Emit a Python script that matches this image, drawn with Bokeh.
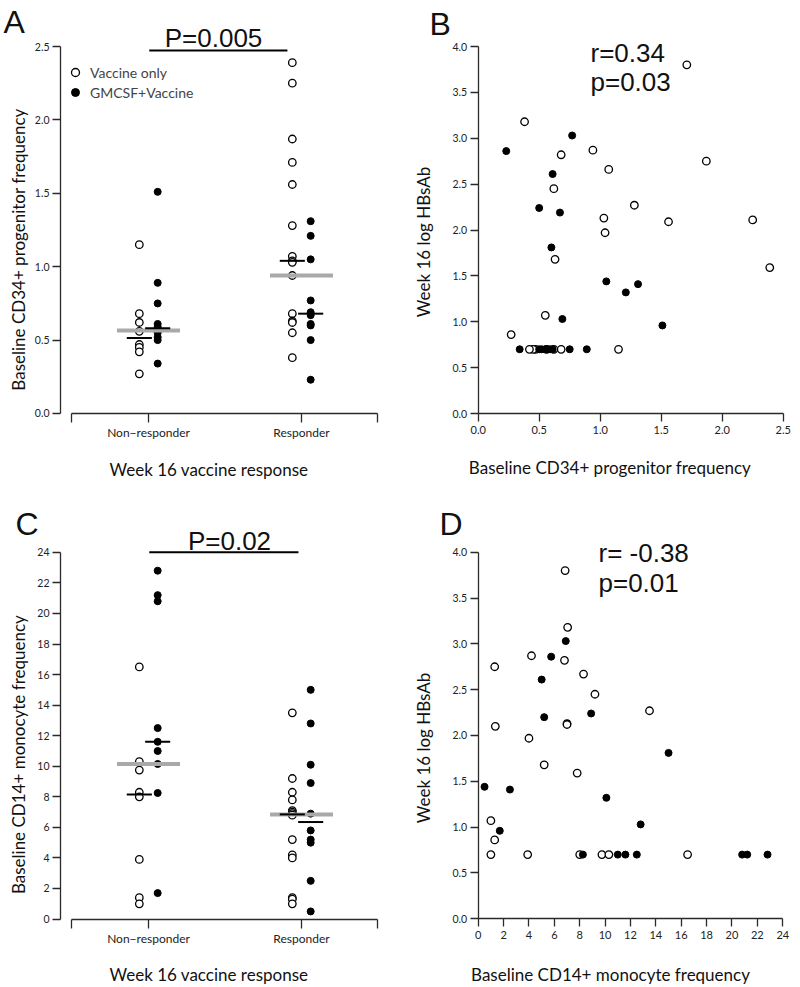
import numpy as np
from bokeh.plotting import figure
from bokeh.models import Range1d, FixedTicker, Label, Legend, LegendItem, PrintfTickFormatter
from bokeh.layouts import column, row
from bokeh.embed import file_html
from bokeh.resources import INLINE

# ---------------- data ----------------
# Panel A: baseline CD34+ progenitor frequency by week-16 response
a_nonresp_vaccine = [1.15, 0.68, 0.62, 0.56, 0.47, 0.45, 0.42, 0.27]
a_nonresp_gmcsf = [1.51, 0.89, 0.75, 0.61, 0.59, 0.57, 0.55, 0.52, 0.50, 0.34]
a_resp_vaccine = [2.39, 2.25, 1.87, 1.71, 1.56, 1.28, 1.07, 1.04, 1.03, 0.94, 0.68, 0.63, 0.62, 0.55, 0.38]
a_resp_gmcsf = [1.31, 1.21, 1.05, 0.77, 0.69, 0.67, 0.61, 0.60, 0.50, 0.23]

# Panel B: CD34+ frequency vs week-16 log HBsAb
b_vaccine_x = [1.71, 0.38, 0.68, 0.94, 1.87, 1.07, 0.62, 1.28, 1.03, 2.25, 1.56, 1.04, 0.63, 2.39, 0.55,
               0.27, 1.15, 0.68, 0.62, 0.56, 0.47, 0.45, 0.42]
b_vaccine_y = [3.80, 3.18, 2.82, 2.87, 2.75, 2.66, 2.45, 2.27, 2.13, 2.11, 2.09, 1.97, 1.68, 1.59, 1.07,
               0.86, 0.70, 0.70, 0.70, 0.70, 0.70, 0.70, 0.70]
b_gmcsf_x = [0.77, 0.23, 0.61, 0.50, 0.67, 0.60, 1.05, 1.21, 1.31, 0.69, 1.51,
             0.34, 0.50, 0.52, 0.55, 0.57, 0.59, 0.61, 0.75, 0.89]
b_gmcsf_y = [3.03, 2.86, 2.61, 2.24, 2.19, 1.81, 1.44, 1.32, 1.41, 1.03, 0.96,
             0.70, 0.70, 0.70, 0.70, 0.70, 0.70, 0.70, 0.70, 0.70]

# Panel C: baseline CD14+ monocyte frequency by week-16 response
c_nonresp_vaccine = [16.5, 10.3, 9.75, 8.3, 8.0, 3.9, 1.4, 1.0]
c_nonresp_gmcsf = [22.8, 21.2, 20.8, 12.5, 11.6, 11.0, 10.15, 8.25, 1.7]
c_resp_vaccine = [13.5, 9.2, 8.3, 7.8, 7.1, 7.0, 6.9, 6.8, 5.2, 4.2, 4.0, 1.4, 1.3, 1.0]
c_resp_gmcsf = [15.0, 12.8, 10.1, 8.9, 6.9, 5.8, 5.2, 5.0, 2.5, 0.5]

# Panel D: CD14+ frequency vs week-16 log HBsAb
d_vaccine_x = [6.85, 7.05, 4.2, 6.8, 1.3, 8.3, 9.2, 13.5, 7.0, 7.0, 1.35, 4.0, 5.2, 7.8, 1.0,
               1.3, 1.0, 3.9, 8.0, 9.75, 10.3, 16.5]
d_vaccine_y = [3.80, 3.18, 2.87, 2.82, 2.75, 2.67, 2.45, 2.27, 2.13, 2.12, 2.10, 1.97, 1.68, 1.59, 1.07,
               0.86, 0.70, 0.70, 0.70, 0.70, 0.70, 0.70]
d_gmcsf_x = [6.9, 5.75, 5.0, 5.2, 8.9, 15.0, 0.5, 2.5, 10.1, 12.8, 1.7,
             8.25, 11.0, 11.6, 12.5, 20.8, 21.2, 22.8]
d_gmcsf_y = [3.03, 2.86, 2.61, 2.20, 2.24, 1.81, 1.44, 1.41, 1.32, 1.03, 0.96,
             0.70, 0.70, 0.70, 0.70, 0.70, 0.70, 0.70]

group_labels = ["Non\u2212responder", "Responder"]
series_labels = ["Vaccine only", "GMCSF+Vaccine"]
stats_a = "P=0.005"
stats_c = "P=0.02"
stats_b = ["r=0.34", "p=0.03"]
stats_d = ["r= -0.38", "p=0.01"]

# ---------------- style ----------------
FONT = "Lato"
HFONT = "Liberation Sans"
AX = "#2a2a2a"
GRAY = "#a9a9a9"
OFF = 0.06          # arm offset inside each response group
BLACK_HALF = 0.082  # half-length of per-arm median bars
GRAY_HALF = 0.206   # half-length of pooled median bar


def make_fig(xr, yr, w, h):
    # the frame fills the whole figure; axes are pinned at fixed data locations
    p = figure(x_range=Range1d(*xr), y_range=Range1d(*yr), frame_width=w, frame_height=h,
               min_border=0, output_backend="svg", toolbar_location=None, tools="")
    p.outline_line_color = None
    p.grid.visible = False
    p.background_fill_color = "white"
    p.border_fill_color = "white"
    return p


def style_axis(ax, ticks, bounds, loc, size, overrides=None, fmt=None, tick_out=8, standoff=3):
    ax.fixed_location = loc
    ax.ticker = FixedTicker(ticks=ticks)
    ax.bounds = bounds
    ax.axis_line_color = AX
    ax.axis_line_width = 1.3
    ax.major_tick_line_color = AX
    ax.major_tick_line_width = 1.3
    ax.major_tick_out = tick_out
    ax.major_tick_in = 0
    ax.minor_tick_line_color = None
    ax.major_label_text_font = FONT
    ax.major_label_text_font_size = size
    ax.major_label_text_color = "#222222"
    ax.major_label_standoff = standoff
    if overrides is not None:
        ax.major_label_overrides = overrides
    if fmt is not None:
        ax.formatter = PrintfTickFormatter(format=fmt)


def add_text(p, x, y, text, size, font=FONT, align="center", angle=0.0):
    p.add_layout(Label(x=x, y=y, text=text, text_font=font, text_font_size=size,
                       text_align=align, text_baseline="middle", angle=angle,
                       text_color="#111111"))


def open_kw():
    return dict(marker="circle", size=7.5, fill_color="white", line_color="black", line_width=1.3)


def fill_kw():
    return dict(marker="circle", size=7, fill_color="black", line_color="black", line_width=1)


def strip_panel(p, nr_v, nr_g, r_v, r_g):
    vx, vy, gx, gy = [], [], [], []
    for c, v, g in ((1, nr_v, nr_g), (2, r_v, r_g)):
        vx += [c - OFF] * len(v)
        vy += list(v)
        gx += [c + OFF] * len(g)
        gy += list(g)
    ro = p.scatter(vx, vy, **open_kw())
    rf = p.scatter(gx, gy, **fill_kw())
    gx0, gx1, gym = [], [], []
    bx0, bx1, bym = [], [], []
    for c, v, g in ((1, nr_v, nr_g), (2, r_v, r_g)):
        m = float(np.median(list(v) + list(g)))
        gx0.append(c - GRAY_HALF); gx1.append(c + GRAY_HALF); gym.append(m)
        for cc, arr in ((c - OFF, v), (c + OFF, g)):
            mm = float(np.median(arr))
            bx0.append(cc - BLACK_HALF); bx1.append(cc + BLACK_HALF); bym.append(mm)
    p.segment(x0=gx0, y0=gym, x1=gx1, y1=gym, line_color=GRAY, line_width=4)
    p.segment(x0=bx0, y0=bym, x1=bx1, y1=bym, line_color="black", line_width=2)
    return ro, rf


strip_ticks = [0.5, 1, 2, 2.5]
strip_over = {0.5: "", 1: group_labels[0], 2: group_labels[1], 2.5: ""}
hbs_ticks = [0, 0.5, 1.0, 1.5, 2.0, 2.5, 3.0, 3.5, 4.0]

# ---------------- Panel A ----------------
pa = make_fig((0.03268, 2.6471), (-0.5450, 2.8134), 400, 493)
ro, rf = strip_panel(pa, a_nonresp_vaccine, a_nonresp_gmcsf, a_resp_vaccine, a_resp_gmcsf)
style_axis(pa.xaxis[0], strip_ticks, (0.5, 2.5), 0, "12px", overrides=strip_over, tick_out=9, standoff=3)
style_axis(pa.yaxis[0], [0, 0.5, 1.0, 1.5, 2.0, 2.5], (0, 2.5), 0.425, "10.5px", fmt="%.1f")
pa.segment(x0=[1.005], y0=[2.4728], x1=[1.908], y1=[2.4728], line_color="black", line_width=2)
add_text(pa, 1.425, 2.5572, stats_a, "26px", font=HFONT)
add_text(pa, 0.0523, 2.6649, "A", "32px", font=HFONT, align="left")
add_text(pa, 1.3954, -0.3815, "Week 16 vaccine response", "17px")
add_text(pa, 0.1503, 1.1172, "Baseline CD34+ progenitor frequency", "17px", angle=np.pi / 2)
legend = Legend(items=[LegendItem(label=series_labels[0], renderers=[ro]),
                       LegendItem(label=series_labels[1], renderers=[rf])],
                location=(65, 391), border_line_color=None, background_fill_alpha=0,
                glyph_width=20, glyph_height=20, label_height=20, label_standoff=5,
                spacing=0, padding=0, margin=0, label_text_font=FONT, label_text_font_size="14px")
pa.add_layout(legend)

# ---------------- Panel B ----------------
pb = make_fig((-0.6369, 2.6418), (-0.8719, 4.5014), 400, 493)
pb.scatter(b_vaccine_x, b_vaccine_y, **open_kw())
pb.scatter(b_gmcsf_x, b_gmcsf_y, **fill_kw())
style_axis(pb.xaxis[0], [0, 0.5, 1.0, 1.5, 2.0, 2.5], (0, 2.5), 0, "11px", fmt="%.1f", standoff=4)
style_axis(pb.yaxis[0], hbs_ticks, (0, 4.0), 0, "10.5px", fmt="%.1f")
add_text(pb, 0.9205, 3.9281, stats_b[0], "26px", font=HFONT, align="left")
add_text(pb, 0.9205, 3.6120, stats_b[1], "26px", font=HFONT, align="left")
add_text(pb, -0.3992, 4.2420, "B", "32px", font=HFONT, align="left")
add_text(pb, 1.0803, -0.5918, "Baseline CD34+ progenitor frequency", "17px")
add_text(pb, -0.4484, 1.8692, "Week 16 log HBsAb", "17px", angle=np.pi / 2)

# ---------------- Panel C ----------------
pc = make_fig((0.03268, 2.6471), (-4.4794, 27.852), 400, 494)
strip_panel(pc, c_nonresp_vaccine, c_nonresp_gmcsf, c_resp_vaccine, c_resp_gmcsf)
style_axis(pc.xaxis[0], strip_ticks, (0.5, 2.5), 0, "12px", overrides=strip_over, tick_out=9, standoff=3)
style_axis(pc.yaxis[0], list(range(0, 25, 2)), (0, 24), 0.425, "10.5px")
pc.segment(x0=[1.005], y0=[24.0], x1=[1.98], y1=[24.0], line_color="black", line_width=2)
add_text(pc, 1.5294, 24.715, stats_c, "26px", font=HFONT)
add_text(pc, 0.1307, 25.835, "C", "32px", font=HFONT, align="left")
add_text(pc, 1.3954, -3.6477, "Week 16 vaccine response", "17px")
add_text(pc, 0.1503, 10.760, "Baseline CD14+ monocyte frequency", "17px", angle=np.pi / 2)

# ---------------- Panel D ----------------
pd_ = make_fig((-6.1229, 25.398), (-0.7499, 4.6405), 400, 494)
pd_.scatter(d_vaccine_x, d_vaccine_y, **open_kw())
pd_.scatter(d_gmcsf_x, d_gmcsf_y, **fill_kw())
style_axis(pd_.xaxis[0], list(range(0, 25, 2)), (0, 24), 0, "11px", standoff=4)
style_axis(pd_.yaxis[0], hbs_ticks, (0, 4.0), 0, "10.5px", fmt="%.1f")
add_text(pd_, 9.480, 3.9902, stats_d[0], "26px", font=HFONT, align="left")
add_text(pd_, 9.480, 3.6629, stats_d[1], "26px", font=HFONT, align="left")
add_text(pd_, -3.0496, 4.3044, "D", "32px", font=HFONT, align="left")
add_text(pd_, 10.4255, -0.6077, "Baseline CD14+ monocyte frequency", "17px")
add_text(pd_, -4.3105, 1.8636, "Week 16 log HBsAb", "17px", angle=np.pi / 2)

layout = column(row(pa, pb), row(pc, pd_))
open("out.html", "w").write(file_html(layout, INLINE))
